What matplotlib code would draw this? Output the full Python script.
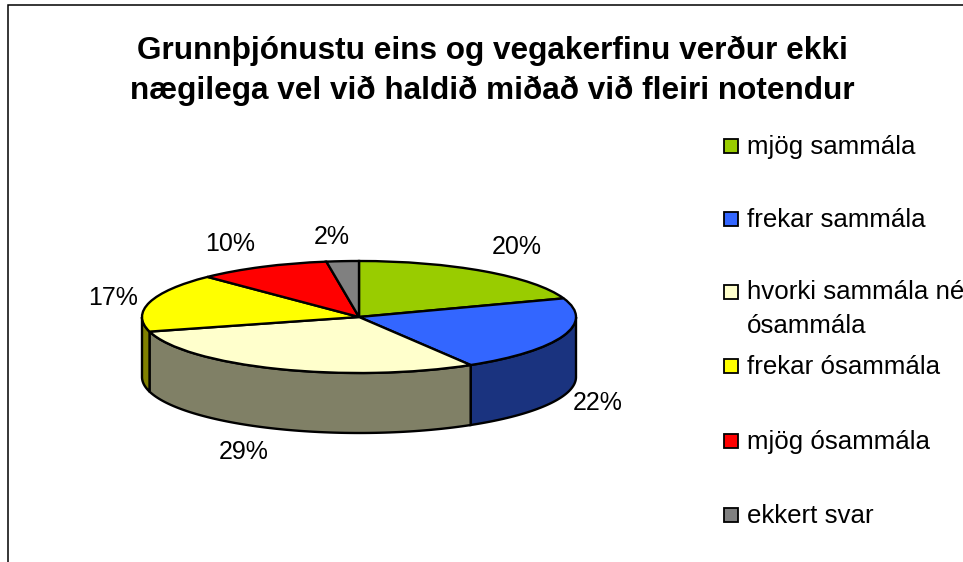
import numpy as np
import matplotlib
matplotlib.use("Agg")
import matplotlib.pyplot as plt

plt.rcParams['font.family'] = ['Liberation Sans', 'DejaVu Sans']

title = "Grunnþjónustu eins og vegakerfinu verður ekki\nnægilega vel við haldið miðað við fleiri notendur"
categories = ["mjög sammála", "frekar sammála", "hvorki sammála né\nósammála",
              "frekar ósammála", "mjög ósammála", "ekkert svar"]
# lesid af myndinni, merkin eru namundud gildi
values = [19.6, 21.8, 29.4, 16.9, 9.9, 2.4]
top_colors = ["#99CC00", "#3366FF", "#FFFFCC", "#FFFF00", "#FF0000", "#808080"]
side_colors = ["#4D6600", "#1A337F", "#808066", "#808000", "#800000", "#404040"]

W, H = 963, 562
DEPTH = 60 / 56  # hlidin, i einingum af y-geisla

fig = plt.figure(figsize=(W / 100, H / 100), dpi=100)

# yfirlag i pixlum fyrir ramma og texta
over = fig.add_axes([0, 0, 1, 1])
over.set_xlim(0, W)
over.set_ylim(H, 0)
over.axis('off')

over.plot([8, 8, W], [H, 5, 5], color="black", lw=1.1, solid_joinstyle='miter')
over.text(492, 70.5, title, ha='center', va='center', fontsize=22.7,
          fontweight='bold', linespacing=1.42)

# kakan
left, right, top, bottom = 142, 576, 261, 433
ax = fig.add_axes([left / W, 1 - bottom / H, (right - left) / W, (bottom - top) / H])
ax.pie(values, colors=top_colors, startangle=90, counterclock=False, normalize=True,
       wedgeprops={'edgecolor': 'black', 'linewidth': 1.7, 'clip_on': False, 'zorder': 5})
ax.set_aspect('auto')
ax.set_xlim(-1, 1)
ax.set_ylim(-1 - DEPTH, 1)
ax.axis('off')

ends = np.cumsum(values) * 3.6
starts = ends - np.array(values) * 3.6
for a, b, c in zip(starts, ends, side_colors):
    a = max(a, 90)
    b = min(b, 270)
    if b <= a:
        continue
    t = np.radians(np.linspace(a, b, 80))
    x = np.sin(t)
    y = np.cos(t)
    ax.fill(np.r_[x, x[::-1]], np.r_[y, y[::-1] - DEPTH], facecolor=c,
            edgecolor='black', linewidth=1.7, clip_on=False, zorder=2)

# prosentur
label_x = [517, 598, 244, 113, 230, 332]
label_y = [247, 403, 452, 298, 244, 237]
for x, y, v in zip(label_x, label_y, values):
    over.text(x, y, f"{round(v)}%", ha='center', va='center', fontsize=18)

# skyring
legend_y = [146, 219, 292, 366, 441, 515]
text_y = [147, 220, 309, 367, 442, 516]
for ly, ty, name, c in zip(legend_y, text_y, categories, top_colors):
    over.plot([730.5], [ly], marker='s', ms=10, mfc=c, mec='black', mew=1.3, ls='none')
    over.text(747, ty, name, ha='left', va='center', fontsize=18.6, linespacing=1.55)

fig.savefig("out.png", dpi=100)
